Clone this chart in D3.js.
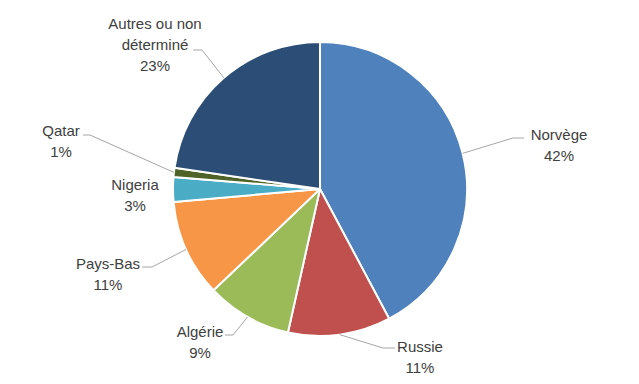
<!DOCTYPE html>
<html><head><meta charset="utf-8">
<script src="https://cdn.jsdelivr.net/npm/d3@7"></script>
<style>html,body{margin:0;padding:0;background:#fff;}</style>
</head><body>
<script>
const categories = ["Norvège","Russie","Algérie","Pays-Bas","Nigeria","Qatar","Autres ou non déterminé"];
const values = [42.2, 11.3, 9.4, 10.7, 2.7, 1.0, 22.7];
const pctLabels = ["42%","11%","9%","11%","3%","1%","23%"];
const nameLines = [["Norvège"],["Russie"],["Algérie"],["Pays-Bas"],["Nigeria"],["Qatar"],["Autres ou non","déterminé"]];

// layout (label anchor x center, first baseline y, leader elbow & end)
const labelLayout = [
  {x:559, y:140, elbow:[513,138], end:[524,138]},
  {x:420, y:352, elbow:[383,348], end:[395,348]},
  {x:200, y:337, elbow:[233,335], end:[225,335]},
  {x:108, y:269, elbow:[152,267], end:[142,267]},
  {x:135, y:190, elbow:null, end:null},
  {x:61,  y:136, elbow:[90,135],  end:[83,135]},
  {x:155, y:29,  elbow:[202,50],  end:[193,50]}
];
const colors = ["#4F81BD","#C0504D","#9BBB59","#F79646","#4BACC6","#4F6228","#2C4D75"];

const W=639,H=384, cx=320, cy=189, R=147;
const svg = d3.select("body").append("svg").attr("width",W).attr("height",H);
const g = svg.append("g").attr("transform",`translate(${cx},${cy})`);

const pie = d3.pie().sort(null).value(d=>d)(values);
const arc = d3.arc().innerRadius(0).outerRadius(R);

g.selectAll("path.slice").data(pie).enter().append("path")
  .attr("class","slice")
  .attr("d",arc)
  .attr("fill",(d,i)=>colors[i])
  .attr("stroke","#fff").attr("stroke-width",2).attr("stroke-linejoin","round");

// leader lines
pie.forEach((d,i)=>{
  const L = labelLayout[i];
  if(!L.elbow) return;
  const a = (d.startAngle+d.endAngle)/2;
  const sx = cx + R*Math.sin(a), sy = cy - R*Math.cos(a);
  svg.append("polyline")
    .attr("points",[[sx,sy],L.elbow,L.end].map(p=>p.join(",")).join(" "))
    .attr("fill","none").attr("stroke","#a6a6a6").attr("stroke-width",1);
});

// labels
const font = "'Liberation Sans', Arial, sans-serif";
categories.forEach((c,i)=>{
  const L = labelLayout[i];
  const t = svg.append("text").attr("text-anchor","middle")
    .attr("font-family",font).attr("font-size","15px").attr("fill","#404040");
  const lines = nameLines[i].concat([pctLabels[i]]);
  lines.forEach((ln,j)=>{
    t.append("tspan").attr("x",L.x).attr("y",L.y + j*21).text(ln);
  });
});
</script>
</body></html>
